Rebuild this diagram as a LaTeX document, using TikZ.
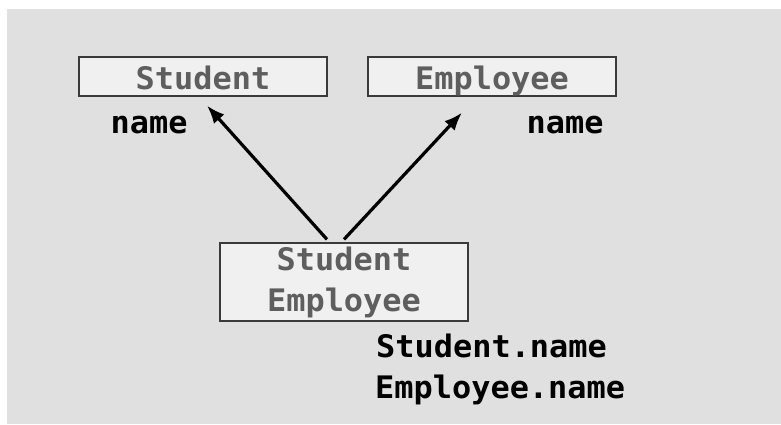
\documentclass[tikz,border=0pt]{standalone}
\usepackage{fontspec}
\usetikzlibrary{arrows.meta}
\newfontfamily\codefont{DejaVu Sans Mono}[FakeStretch=1.03]
\definecolor{panelgray}{HTML}{E0E0E0}
\definecolor{boxfill}{HTML}{F0F0F0}
\definecolor{boxline}{HTML}{3A3A3A}
\definecolor{classtext}{HTML}{5E5E5E}
\tikzset{
  classbox/.style={draw=boxline, line width=1.2pt, fill=boxfill,
    minimum width=248pt, inner sep=0pt, text=classtext,
    font=\codefont\bfseries\fontsize{31}{41}\selectfont, align=center},
  attr/.style={anchor=base west, inner sep=0pt, text=black,
    font=\codefont\bfseries\fontsize{31}{41}\selectfont},
  isa/.style={line width=3.2pt, -{Latex[length=18pt,width=14pt]}}
}
\begin{document}
\begin{tikzpicture}[x=1pt,y=-1pt]
  \useasboundingbox (0,0) rectangle (781,424);
  \fill[panelgray] (7,9) rectangle (781,424);

  % base classes
  \node[classbox, minimum height=39pt, text height=25pt, text depth=0pt]
    (stu) at (203,76.5) {Student};
  \node[classbox, minimum height=39pt, text height=25pt, text depth=0pt]
    (emp) at (492,76.5) {Employee};

  % derived class
  \node[classbox, minimum height=78pt] (se) at (344,282)
    {Student\\Employee};

  % inherited attributes
  \node[attr] (nameS) at (110.5,133) {name};
  \node[attr] (nameE) at (526.5,133) {name};
  \node[attr] (qualS) at (376,357) {Student.name};
  \node[attr] (qualE) at (375,398) {Employee.name};

  % inheritance arrows
  \draw[isa] ([xshift=-17pt,yshift=3pt]se.north) -- ([xshift=4pt,yshift=-9pt]stu.south);
  \draw[isa] ([xshift=0pt,yshift=3pt]se.north) -- ([xshift=-30pt,yshift=-16pt]emp.south);
\end{tikzpicture}
\end{document}
